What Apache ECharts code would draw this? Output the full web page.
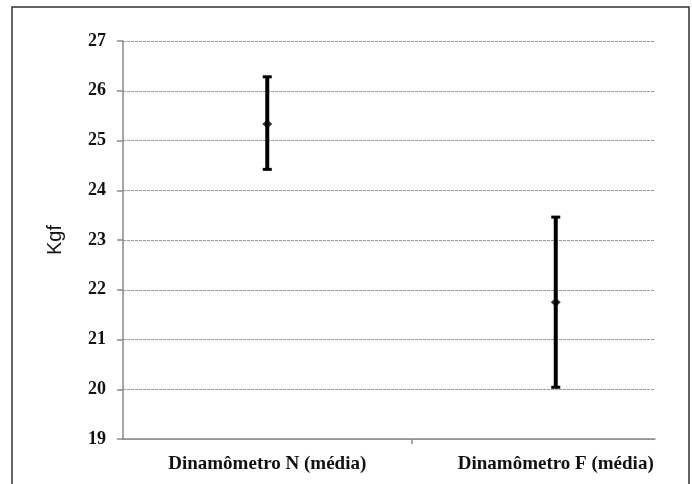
<!DOCTYPE html>
<html>
<head>
<meta charset="utf-8">
<script src="https://cdn.jsdelivr.net/npm/echarts@6/dist/echarts.min.js"></script>
<style>html,body{margin:0;padding:0;background:#fff;}#c{width:692px;height:484px;}</style>
</head>
<body>
<div id="c"></div>
<script>
var categories = ['Dinamômetro N (média)', 'Dinamômetro F (média)'];
var positions = [1, 2];
var means = [25.33, 21.75];
var upper = [26.28, 23.46];
var lower = [24.42, 20.04];
var yTicks = [19, 20, 21, 22, 23, 24, 25, 26, 27];

var chart = echarts.init(document.getElementById('c'), null, {renderer: 'canvas'});

var errData = positions.map(function (p, i) { return [p, lower[i], upper[i]]; });
var meanData = positions.map(function (p, i) { return [p, means[i]]; });

chart.setOption({
  backgroundColor: '#fff',
  animation: false,
  graphic: [{
    type: 'rect',
    shape: {x: 12, y: 7, width: 677, height: 490},
    style: {fill: 'none', stroke: '#333', lineWidth: 1.5},
    silent: true
  }],
  grid: {left: 123, right: 37, top: 41, bottom: 45, containLabel: false},
  xAxis: {
    type: 'value',
    min: 0.5,
    max: 2.344,
    axisLine: {show: true, onZero: false, lineStyle: {color: '#8a8a8a', width: 1.5}},
    splitLine: {show: false},
    axisTick: {show: true, customValues: [1.5], length: 5, inside: false, lineStyle: {color: '#8a8a8a', width: 1.5}},
    axisLabel: {
      customValues: positions,
      formatter: function (v) {
        var i = positions.indexOf(v);
        return i >= 0 ? categories[i] : '';
      },
      fontFamily: 'Liberation Serif',
      fontWeight: 'bold',
      fontSize: 19,
      color: '#111',
      margin: 16
    }
  },
  yAxis: {
    type: 'value',
    min: 19,
    max: 27,
    interval: 1,
    name: 'Kgf',
    nameLocation: 'middle',
    nameGap: 58,
    nameTextStyle: {fontFamily: 'Liberation Sans', fontSize: 20, color: '#111'},
    axisLine: {show: true, onZero: false, lineStyle: {color: '#8a8a8a', width: 1.5}},
    axisTick: {show: true, length: 6, inside: false, lineStyle: {color: '#8a8a8a', width: 1.5}},
    splitLine: {show: true, lineStyle: {color: '#999', type: [3, 1], width: 1}},
    axisLabel: {
      fontFamily: 'Liberation Serif',
      fontWeight: 'bold',
      fontSize: 18,
      color: '#111',
      margin: 17,
      formatter: function (v) { return yTicks.indexOf(v) >= 0 ? String(v) : ''; }
    }
  },
  series: [
    {
      type: 'custom',
      data: errData,
      renderItem: function (params, api) {
        var x = api.value(0);
        var lo = api.coord([x, api.value(1)]);
        var hi = api.coord([x, api.value(2)]);
        var hw = 4.5;
        var st = {stroke: '#000', lineWidth: 4};
        var cs = {stroke: '#000', lineWidth: 3};
        return {
          type: 'group',
          children: [
            {type: 'line', shape: {x1: lo[0], y1: lo[1], x2: hi[0], y2: hi[1]}, style: st},
            {type: 'line', shape: {x1: hi[0] - hw, y1: hi[1], x2: hi[0] + hw, y2: hi[1]}, style: cs},
            {type: 'line', shape: {x1: lo[0] - hw, y1: lo[1], x2: lo[0] + hw, y2: lo[1]}, style: cs}
          ]
        };
      },
      z: 3
    },
    {
      type: 'scatter',
      data: meanData,
      symbol: 'diamond',
      symbolSize: [10, 9],
      itemStyle: {color: '#000'},
      z: 4
    }
  ]
});
</script>
</body>
</html>
